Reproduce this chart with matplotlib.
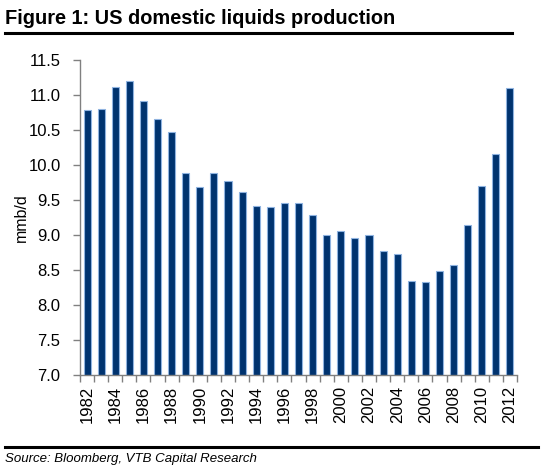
import numpy as np
import matplotlib
matplotlib.use("Agg")
from matplotlib import pyplot as plt
from matplotlib.lines import Line2D

plt.rcParams['font.family'] = ['Liberation Sans', 'DejaVu Sans']

# data
years = list(range(1982, 2013))
production = [10.78, 10.80, 11.11, 11.20, 10.92, 10.65, 10.47, 9.89, 9.69, 9.89,
              9.77, 9.61, 9.42, 9.40, 9.45, 9.46, 9.28, 9.00, 9.06, 8.96,
              9.00, 8.77, 8.73, 8.34, 8.33, 8.48, 8.57, 9.14, 9.70, 10.16,
              11.10]
y_ticks = [7.0, 7.5, 8.0, 8.5, 9.0, 9.5, 10.0, 10.5, 11.0, 11.5]

fig = plt.figure(figsize=(5.5, 4.69), dpi=100)
ax = fig.add_axes([80 / 550, 1 - 375 / 469, 437 / 550, 315 / 469])

x = np.arange(len(years))
ax.bar(x, production, width=0.5, bottom=0, color='#00336f',
       edgecolor='#8fb3e0', linewidth=0.8)

ax.set_ylim(7.0, 11.5)
ax.set_xlim(-0.5, len(years) - 0.5)
ax.set_yticks(y_ticks)
ax.set_yticklabels(['%.1f' % v for v in y_ticks], fontsize=12)

# labels every other year, ticks between the bars
ax.set_xticks(x[::2])
ax.set_xticklabels([str(y) for y in years[::2]], rotation=90, fontsize=12)
ax.set_xticks(np.arange(len(years) + 1) - 0.5, minor=True)
ax.tick_params(axis='x', which='major', length=0, pad=8)
ax.tick_params(axis='x', which='minor', length=5, color='#808080', width=1)
ax.tick_params(axis='y', length=5, color='#808080', width=1, pad=9)

for s in ['top', 'right']:
    ax.spines[s].set_visible(False)
for s in ['left', 'bottom']:
    ax.spines[s].set_color('#808080')
    ax.spines[s].set_linewidth(1)

ax.set_ylabel('mmb/d', fontsize=11.5)
ax.yaxis.set_label_coords(-(80 - 29) / 437, 0.5)

# title with underline
fig.text(5 / 550, 1 - 18 / 469, 'Figure 1: US domestic liquids production',
         fontsize=14.4, fontweight='bold', va='center', ha='left')
fig.add_artist(Line2D([5 / 550, 512 / 550], [1 - 33 / 469, 1 - 33 / 469],
                      color='black', linewidth=2.2))

# source line
fig.add_artist(Line2D([5 / 550, 538 / 550], [1 - 447 / 469, 1 - 447 / 469],
                      color='black', linewidth=2.2))
fig.text(5 / 550, 1 - 459 / 469, 'Source: Bloomberg, VTB Capital Research',
         fontsize=9.5, style='italic', va='center', ha='left')

fig.savefig('out.png', dpi=100)
